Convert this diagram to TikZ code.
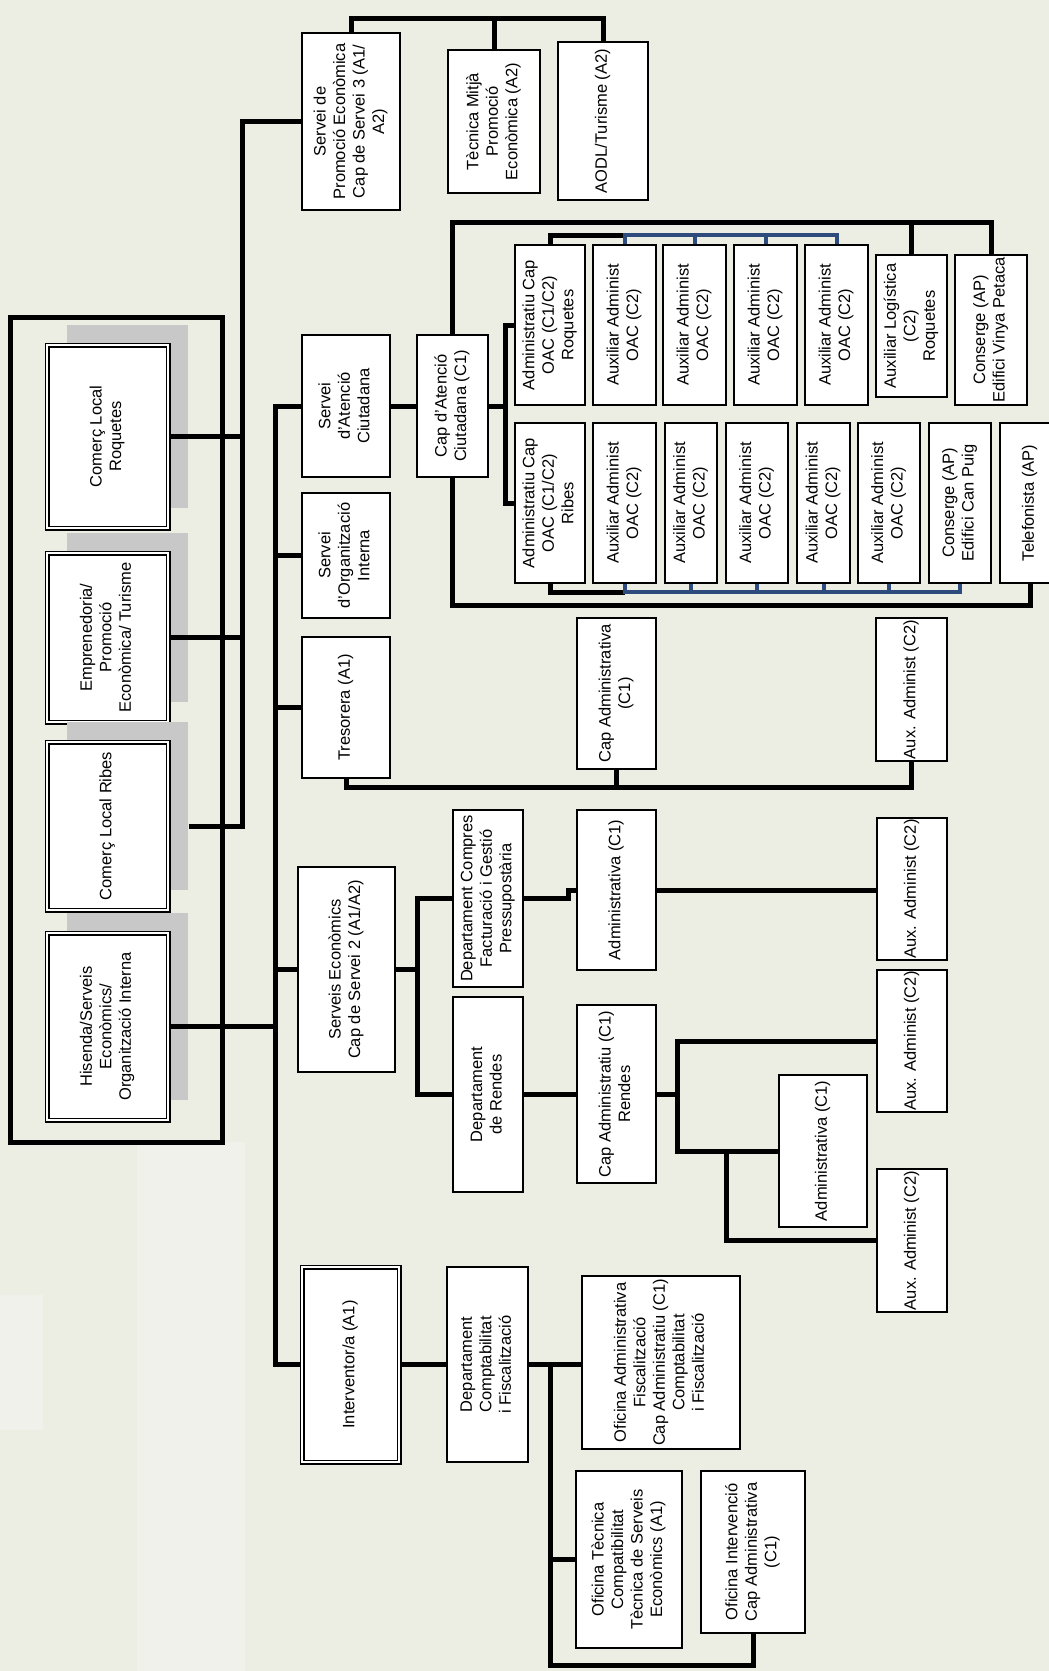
\documentclass[tikz,border=0pt]{standalone}
\usepackage{fontspec}
\setmainfont{Liberation Sans}
\usepackage{graphicx}
\usetikzlibrary{shadows}

\definecolor{pagebg}{RGB}{236,238,228}
\definecolor{bandbg}{RGB}{240,241,234}
\definecolor{shade}{RGB}{200,200,200}
\definecolor{busblue}{RGB}{45,75,125}

\newcommand{\vtxt}[1]{\rotatebox{90}{\begin{tabular}{@{}c@{}}#1\end{tabular}}}

\tikzset{
  unit/.style={draw, fill=white, line width=2pt, inner sep=0pt,
    font=\fontsize{16.5}{19.5}\selectfont},
  sz/.style 2 args={minimum width=#1pt, minimum height=#2pt},
  dblbox/.style={unit, double, double distance=2pt, line width=1.5pt},
  area/.style={dblbox, drop shadow={shadow xshift=20pt, shadow yshift=20pt,
    fill=shade, opacity=1}},
  conn/.style={line width=5pt},
  bus/.style={line width=4pt, busblue}
}

\begin{document}
\begin{tikzpicture}[x=1pt, y=-1pt]
    \useasboundingbox (0,0) rectangle (1049,1671);
    \fill[pagebg] (0,0) rectangle (1049,1671);
    \fill[bandbg] (137,1142) rectangle (245,1671);
    \fill[bandbg] (0,1295) rectangle (43,1430);

    % areas
    \draw[conn] (10,317) rectangle (222,1142);
    \node[area, sz={121}{183}] (comR) at (107.5,436.5) {\vtxt{Comerç Local\\Roquetes}};
    \node[area, sz={121}{169}] (empr) at (107.5,637.5) {\vtxt{Emprenedoria/\\Promoció\\Econòmica/ Turisme}};
    \node[area, sz={121}{168}] (comRb) at (107.5,826) {\vtxt{Comerç Local Ribes}};
    \node[area, sz={121}{187}] (hisenda) at (107.5,1026.5) {\vtxt{Hisenda/Serveis\\Econòmics/\\Organització Interna}};

    % promocio economica
    \node[unit, sz={98}{177}] (sprom) at (351,121.5) {\vtxt{Servei de\\Promoció Econòmica\\Cap de Servei 3 (A1/\\A2)}};
    \node[unit, sz={92}{143}] (tecm) at (494,121.5) {\vtxt{Tècnica Mitjà\\Promoció\\Econòmica (A2)}};
    \node[unit, sz={90}{158}] (aodl) at (603,121) {\vtxt{AODL/Turisme (A2)}};

    % serveis
    \node[unit, sz={88}{142}] (sac) at (346,406) {\vtxt{Servei\\d'Atenció\\Ciutadana}};
    \node[unit, sz={88}{125}] (soi) at (346,555.5) {\vtxt{Servei\\d'Organització\\Interna}};
    \node[unit, sz={88}{141}] (tres) at (346,707.5) {\vtxt{Tresorera (A1)}};
    \node[unit, sz={97}{205}] (secon) at (346.5,969.5) {\vtxt{Serveis Econòmics\\Cap de Servei 2 (A1/A2)}};
    \node[dblbox, sz={97}{195}] (interv) at (350.5,1364.5) {\vtxt{Interventor/a (A1)}};

    % atencio ciutadana
    \node[unit, sz={71}{142}] (cap) at (452.5,406) {\vtxt{Cap d'Atenció\\Ciutadana (C1)}};
    \node[unit, sz={70}{160}] (acr) at (550,325) {\vtxt{Administratiu Cap\\OAC (C1/C2)\\Roquetes}};
    \node[unit, sz={63}{160}] (oac1) at (624.5,325) {\vtxt{Auxiliar Administ\\OAC (C2)}};
    \node[unit, sz={63}{160}] (oac2) at (694.5,325) {\vtxt{Auxiliar Administ\\OAC (C2)}};
    \node[unit, sz={63}{160}] (oac3) at (765.5,325) {\vtxt{Auxiliar Administ\\OAC (C2)}};
    \node[unit, sz={63}{160}] (oac4) at (836.5,325) {\vtxt{Auxiliar Administ\\OAC (C2)}};
    \node[unit, sz={71}{142}] (logr) at (911.5,326) {\vtxt{Auxiliar Logística\\(C2)\\Roquetes}};
    \node[unit, sz={72}{150}] (cvp) at (991,330) {\vtxt{Conserge (AP)\\Edifici Vinya Petaca}};
    \node[unit, sz={70}{160}] (acb) at (550,503) {\vtxt{Administratiu Cap\\OAC (C1/C2)\\Ribes}};
    \node[unit, sz={63}{160}] (oab1) at (624.5,503) {\vtxt{Auxiliar Administ\\OAC (C2)}};
    \node[unit, sz={52}{160}] (oab2) at (691,503) {\vtxt{Auxiliar Administ\\OAC (C2)}};
    \node[unit, sz={62}{160}] (oab3) at (757,503) {\vtxt{Auxiliar Administ\\OAC (C2)}};
    \node[unit, sz={53}{160}] (oab4) at (823.5,503) {\vtxt{Auxiliar Administ\\OAC (C2)}};
    \node[unit, sz={62}{160}] (oab5) at (889,503) {\vtxt{Auxiliar Administ\\OAC (C2)}};
    \node[unit, sz={62}{160}] (ccp) at (960,503) {\vtxt{Conserge (AP)\\Edifici Can Puig}};
    \node[unit, sz={60}{160}] (tel) at (1030,503) {\vtxt{Telefonista (AP)}};

    % tresoreria
    \node[unit, sz={79}{151}] (capadm) at (616.5,693.5) {\vtxt{Cap Administrativa\\(C1)}};
    \node[unit, sz={71}{143}] (auxa1) at (911.5,689.5) {\vtxt{Aux. Administ (C2)}};

    % serveis economics
    \node[unit, sz={70}{177}] (dcomp) at (488,898.5) {\vtxt{Departament Compres\\Facturació i Gestió\\Pressupostària}};
    \node[unit, sz={70}{195}] (drend) at (488,1094.5) {\vtxt{Departament\\de Rendes}};
    \node[unit, sz={79}{160}] (adm1) at (616.5,890) {\vtxt{Administrativa (C1)}};
    \node[unit, sz={70}{142}] (auxa2) at (912,889) {\vtxt{Aux. Administ (C2)}};
    \node[unit, sz={79}{178}] (caprend) at (616.5,1094) {\vtxt{Cap Administratiu (C1)\\Rendes}};
    \node[unit, sz={70}{142}] (auxa3) at (912,1041) {\vtxt{Aux. Administ (C2)}};
    \node[unit, sz={88}{152}] (adm2) at (823,1151) {\vtxt{Administrativa (C1)}};
    \node[unit, sz={70}{143}] (auxa4) at (912,1240.5) {\vtxt{Aux. Administ (C2)}};

    % intervencio
    \node[unit, sz={81}{195}] (dcf) at (487.5,1364.5) {\vtxt{Departament\\Comptabilitat\\i Fiscalització}};
    \node[unit, sz={158}{173}] (ofadm) at (661,1362.5) {\vtxt{Oficina Administrativa\\Fiscalització\\Cap Administratiu (C1)\\Comptabilitat\\i Fiscalització}};
    \node[unit, sz={106}{177}] (oftec) at (629,1559.5) {\vtxt{Oficina Tècnica\\Compatibilitat\\Tècnica de Serveis\\Econòmics (A1)}};
    \node[unit, sz={104}{162}] (ofint) at (753,1552) {\vtxt{Oficina Intervenció\\Cap Administrativa\\(C1)}};

    % connectors
    \coordinate (pbus) at (242,0);
    \coordinate (ptop) at (0,18);
    \coordinate (spine) at (275,0);
    \draw[conn] (sprom.west) -- (sprom.west -| pbus) -- (comRb.east -| pbus) -- ([xshift=20pt]comRb.east);
    \draw[conn] (comR.east) -- (comR.east -| pbus);
    \draw[conn] (empr.east) -- (empr.east -| pbus);
    \draw[conn] (sprom.north) -- (sprom.north |- ptop) -| (aodl.north);
    \draw[conn] (tecm.north) -- (tecm.north |- ptop);
    \draw[conn] (sac.west) -- (sac.west -| spine) -- (interv.west -| spine) -- (interv.west);
    \foreach \n in {soi,tres,secon}
        \draw[conn] (\n.west) -- (\n.west -| spine);
    \draw[conn] (hisenda.east) -- (hisenda.east -| spine);

    \coordinate (ocbr) at (505,0);
    \coordinate (loopt) at (0,222);
    \coordinate (loopb) at (0,605);
    \coordinate (bust) at (0,235);
    \coordinate (busb) at (0,592);
    \draw[conn] (sac.east) -- (cap.west);
    \draw[conn] (cap.east) -- (cap.east -| ocbr);
    \draw[conn] (acr.west) -- (acr.west -| ocbr) -- (acb.west -| ocbr) -- (acb.west);
    \draw[conn] (cap.north) |- (cvp.north |- loopt) -- (cvp.north);
    \draw[conn] (logr.north) -- (logr.north |- loopt);
    \draw[conn] (cap.south) |- (tel.south |- loopb) -- (tel.south);
    \draw[conn] (acr.north) |- (oac1.north |- bust);
    \draw[bus] (oac1.north) |- (oac4.north |- bust) -- (oac4.north);
    \foreach \n in {oac2,oac3}
        \draw[bus] (\n.north) -- (\n.north |- bust);
    \draw[conn] (acb.south) |- (oab1.south |- busb);
    \draw[bus] (oab1.south) |- (ccp.south |- busb) -- (ccp.south);
    \foreach \n in {oab2,oab3,oab4,oab5}
        \draw[bus] (\n.south) -- (\n.south |- busb);

    \coordinate (tline) at (0,787);
    \draw[conn] (tres.south) |- (auxa1.south |- tline) -- (auxa1.south);
    \draw[conn] (capadm.south) -- (capadm.south |- tline);

    \coordinate (ebr) at (417,0);
    \coordinate (rbr) at (677,0);
    \coordinate (rbr2) at (726,0);
    \draw[conn] (secon.east) -- (secon.east -| ebr);
    \draw[conn] (dcomp.west) -- (dcomp.west -| ebr) -- (drend.west -| ebr) -- (drend.west);
    \draw[conn] (dcomp.east) -- ++(44,0) |- (adm1.west);
    \draw[conn] (adm1.east) -- (adm1.east -| auxa2.west);
    \draw[conn] (drend.east) -- (drend.east -| caprend.west);
    \draw[conn] (caprend.east) -- (caprend.east -| rbr);
    \draw[conn] (auxa3.west) -- (auxa3.west -| rbr) -- (adm2.west -| rbr) -- (adm2.west);
    \draw[conn] (adm2.west -| rbr2) |- (auxa4.west);

    \coordinate (ibr) at (550,0);
    \coordinate (ibot) at (0,1665);
    \draw[conn] (interv.east) -- (dcf.west);
    \draw[conn] (dcf.east) -- (dcf.east -| ofadm.west);
    \draw[conn] (dcf.east -| ibr) |- (ofint.south |- ibot) -- (ofint.south);
    \draw[conn] (oftec.west) -- (oftec.west -| ibr);
\end{tikzpicture}
\end{document}
